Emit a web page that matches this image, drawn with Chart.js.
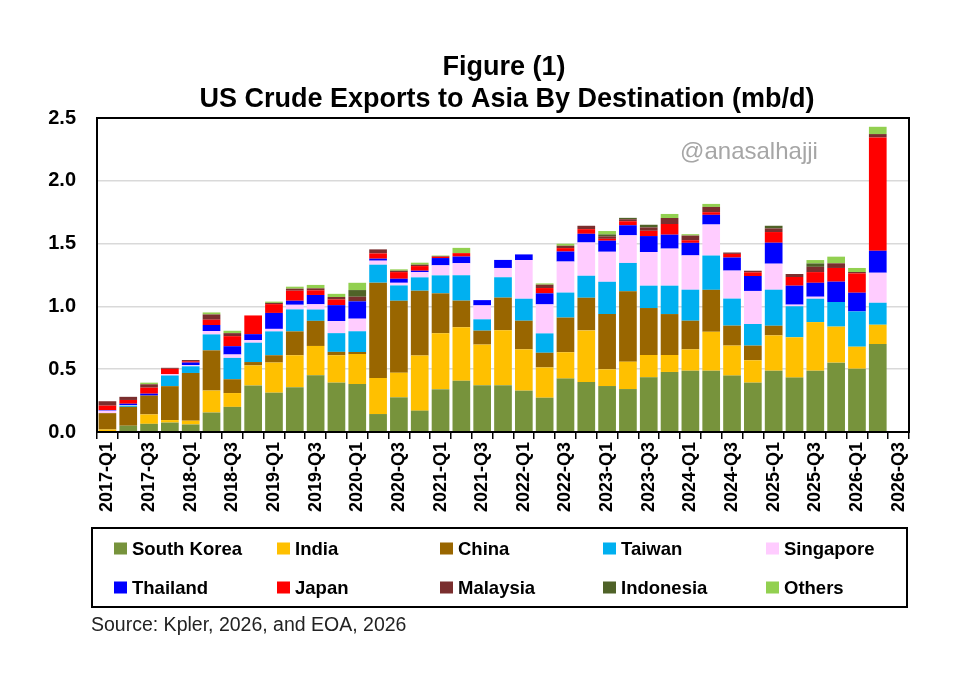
<!DOCTYPE html>
<html>
<head>
    <meta charset="UTF-8">
    <title>US Crude Exports to Asia</title>
    <script src="https://cdn.jsdelivr.net/npm/chart.js"></script>
    <style>
        html, body { margin: 0; padding: 0; background: #fff; }
        #wrap { width: 975px; height: 689px; }
    </style>
</head>
<body>
    <div id="wrap"><canvas id="exportsChart" width="975" height="689"></canvas></div>

    <script>
        // quarters on the axis (last one is an empty slot)
        var quarters = ['2017-Q1','2017-Q2','2017-Q3','2017-Q4','2018-Q1','2018-Q2','2018-Q3','2018-Q4',
            '2019-Q1','2019-Q2','2019-Q3','2019-Q4','2020-Q1','2020-Q2','2020-Q3','2020-Q4',
            '2021-Q1','2021-Q2','2021-Q3','2021-Q4','2022-Q1','2022-Q2','2022-Q3','2022-Q4',
            '2023-Q1','2023-Q2','2023-Q3','2023-Q4','2024-Q1','2024-Q2','2024-Q3','2024-Q4',
            '2025-Q1','2025-Q2','2025-Q3','2025-Q4','2026-Q1','2026-Q2','2026-Q3'];

        var southKorea = [0.005,0.05,0.065,0.075,0.06,0.155,0.20,0.37,0.313,0.356,0.451,0.393,0.382,0.143,0.276,0.17,0.34,0.409,0.372,0.372,0.329,0.273,0.425,0.398,0.366,0.342,0.435,0.478,0.488,0.488,0.449,0.393,0.488,0.433,0.488,0.552,0.504,0.70,null];
        var india = [0.015,0,0.075,0.02,0.03,0.175,0.11,0.16,0.24,0.255,0.234,0.218,0.239,0.287,0.196,0.44,0.446,0.425,0.324,0.438,0.329,0.241,0.21,0.411,0.133,0.218,0.178,0.135,0.17,0.31,0.239,0.178,0.281,0.321,0.387,0.287,0.175,0.154,null];
        var china = [0.13,0.15,0.15,0.27,0.38,0.32,0.11,0.027,0.058,0.19,0.20,0.027,0.016,0.759,0.573,0.515,0.318,0.212,0.111,0.26,0.228,0.117,0.276,0.26,0.44,0.56,0.374,0.326,0.228,0.334,0.159,0.117,0.077,0,0,0,0,0,null];
        var taiwan = [0,0.01,0,0.085,0.053,0.127,0.17,0.154,0.19,0.175,0.09,0.149,0.165,0.143,0.122,0.106,0.143,0.202,0.09,0.162,0.175,0.154,0.199,0.175,0.257,0.226,0.178,0.226,0.247,0.273,0.215,0.172,0.287,0.247,0.186,0.196,0.281,0.175,null];
        var singapore = [0.02,0.005,0,0.01,0.01,0.027,0.027,0.02,0.02,0.037,0.042,0.096,0.10,0.032,0.021,0.042,0.08,0.096,0.111,0.074,0.308,0.231,0.247,0.265,0.239,0.22,0.268,0.295,0.273,0.247,0.223,0.263,0.207,0.013,0.016,0,0,0.239,null];
        var thailand = [0.005,0.01,0.015,0,0.02,0.048,0.066,0.048,0.127,0.032,0.074,0.127,0.138,0.016,0.032,0.011,0.058,0.053,0.042,0.064,0.045,0.088,0.08,0.069,0.088,0.08,0.127,0.111,0.1,0.077,0.104,0.119,0.167,0.151,0.111,0.162,0.149,0.175,null];
        var japan = [0.035,0.03,0.048,0.043,0.01,0.042,0.08,0.149,0.07,0.08,0.037,0.045,0,0.042,0.053,0.037,0.01,0.027,0,0,0,0.042,0.027,0.037,0.015,0.032,0.042,0.085,0.021,0.021,0.029,0.029,0.085,0.069,0.085,0.109,0.154,0.902,null];
        var malaysia = [0.035,0.025,0.027,0.008,0.01,0.042,0.024,0,0.01,0.016,0.016,0.02,0.037,0.032,0.011,0.011,0.005,0,0,0,0,0.027,0.019,0.027,0.02,0.016,0.027,0.048,0.037,0.042,0.011,0.013,0.029,0.024,0.042,0.037,0.011,0.027,null];
        var indonesia = [0,0,0,0,0,0,0,0,0,0,0,0,0.053,0,0,0,0,0,0,0,0,0,0,0,0.015,0.011,0.021,0,0,0,0,0,0.021,0,0.027,0,0,0,null];
        var others = [0,0,0.013,0,0,0.016,0.019,0,0.01,0.016,0.027,0.025,0.058,0,0.011,0.016,0.005,0.042,0,0,0,0.01,0.016,0,0.027,0,0,0.032,0.011,0.024,0,0,0,0,0.027,0.053,0.032,0.058,null];

        var yTicks = [0, 0.5, 1.0, 1.5, 2.0, 2.5];

        var FONT = "'Liberation Sans', Arial, sans-serif";

        function makeSet(label, data, color) {
            return {
                label: label,
                data: data,
                backgroundColor: color,
                borderWidth: 0,
                categoryPercentage: 1.0,
                barPercentage: 0.85
            };
        }

        var datasets = [
            makeSet('South Korea', southKorea, '#77933C'),
            makeSet('India', india, '#FFC000'),
            makeSet('China', china, '#996600'),
            makeSet('Taiwan', taiwan, '#00B0F0'),
            makeSet('Singapore', singapore, '#FFCCFF'),
            makeSet('Thailand', thailand, '#0000FF'),
            makeSet('Japan', japan, '#FF0000'),
            makeSet('Malaysia', malaysia, '#7A2E2E'),
            makeSet('Indonesia', indonesia, '#4F6228'),
            makeSet('Others', others, '#92D050')
        ];

        // title, watermark, plot frame, boxed legend and source line
        var decorations = {
            id: 'decorations',
            afterDraw: function(chart) {
                var ctx = chart.ctx;
                var area = chart.chartArea;
                ctx.save();

                ctx.strokeStyle = '#000';
                ctx.lineWidth = 2;
                ctx.strokeRect(area.left, area.top, area.right - area.left, area.bottom - area.top);

                ctx.fillStyle = '#000';
                ctx.textAlign = 'center';
                ctx.textBaseline = 'alphabetic';
                ctx.font = 'bold 27px ' + FONT;
                ctx.fillText('Figure (1)', 504, 75);
                ctx.fillText('US Crude Exports to Asia By Destination (mb/d)', 507, 107);

                ctx.fillStyle = '#A6A6A6';
                ctx.font = '24px ' + FONT;
                ctx.textBaseline = 'middle';
                ctx.fillText('@anasalhajji', 749, 152);

                // legend box
                ctx.strokeStyle = '#000';
                ctx.lineWidth = 2;
                ctx.strokeRect(92, 528, 815, 79);
                ctx.font = 'bold 18.5px ' + FONT;
                ctx.textAlign = 'left';
                var sets = chart.data.datasets;
                for (var i = 0; i < sets.length; i++) {
                    var col = i % 5;
                    var row = Math.floor(i / 5);
                    var x = 114 + col * 163;
                    var y = 548.5 + row * 39;
                    ctx.fillStyle = sets[i].backgroundColor;
                    ctx.fillRect(x, y - 6, 13, 12);
                    ctx.fillStyle = '#000';
                    ctx.fillText(sets[i].label, x + 18, y + 1);
                }

                ctx.fillStyle = '#222';
                ctx.font = '19.5px ' + FONT;
                ctx.fillText('Source: Kpler, 2026, and EOA, 2026', 91, 626);
                ctx.restore();
            }
        };

        var ctx = document.getElementById('exportsChart').getContext('2d');
        var exportsChart = new Chart(ctx, {
            type: 'bar',
            data: { labels: quarters, datasets: datasets },
            options: {
                responsive: false,
                animation: false,
                layout: { padding: { top: 118, left: 0, right: 66, bottom: 167 } },
                plugins: {
                    legend: { display: false },
                    tooltip: { enabled: false }
                },
                scales: {
                    x: {
                        stacked: true,
                        afterFit: function(scale) { scale.height = 90; },
                        grid: {
                            offset: true,
                            drawOnChartArea: false,
                            drawTicks: true,
                            tickLength: 7,
                            color: '#000',
                            lineWidth: 1.5
                        },
                        border: { display: false },
                        ticks: {
                            autoSkip: false,
                            maxRotation: 90,
                            minRotation: 90,
                            padding: 3,
                            color: '#000',
                            font: { family: FONT, size: 18, weight: 'bold' },
                            callback: function(value, index) {
                                return index % 2 === 0 ? quarters[index] : '';
                            }
                        }
                    },
                    y: {
                        stacked: true,
                        min: 0,
                        max: 2.5,
                        afterFit: function(scale) { scale.width = 97; },
                        afterBuildTicks: function(scale) {
                            scale.ticks = yTicks.map(function(v) { return { value: v }; });
                        },
                        grid: {
                            color: '#D9D9D9',
                            lineWidth: 1.5,
                            drawTicks: false
                        },
                        border: { display: false },
                        ticks: {
                            padding: 21,
                            color: '#000',
                            font: { family: FONT, size: 20, weight: 'bold' },
                            callback: function(value) { return Number(value).toFixed(1); }
                        }
                    }
                }
            },
            plugins: [decorations]
        });
    </script>
</body>
</html>
